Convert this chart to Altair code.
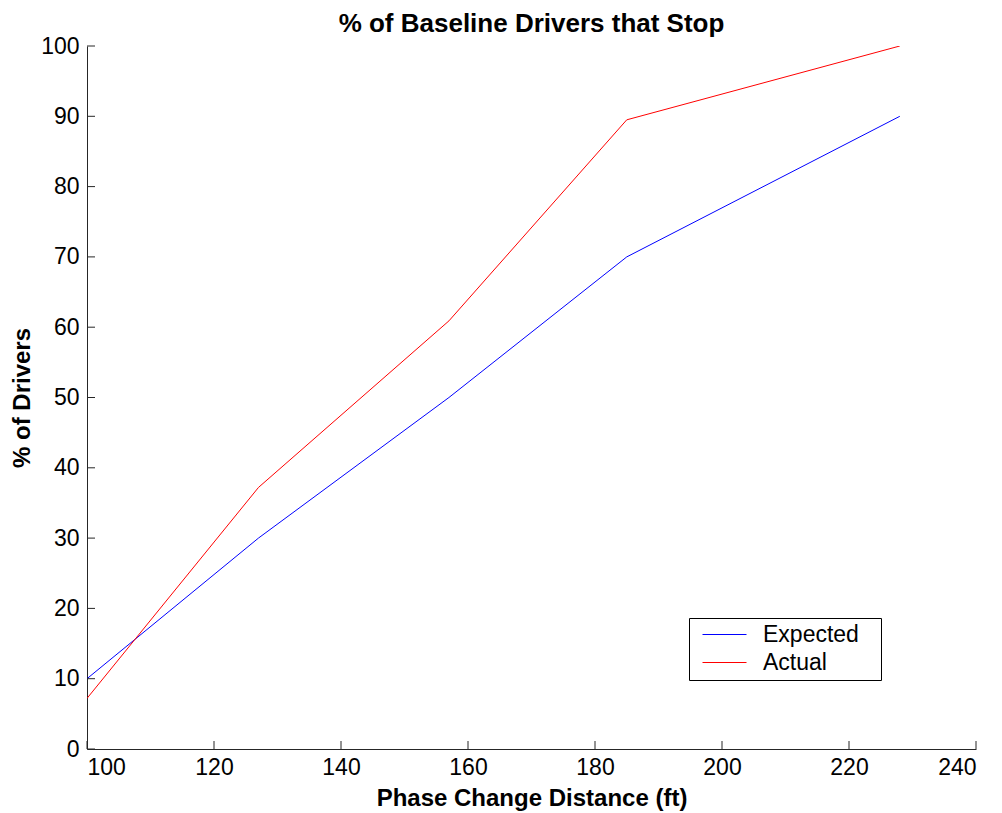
import altair as alt
import pandas as pd

distance = [100, 127, 157, 185, 228]
expected = [10, 30, 50, 70, 90]
actual = [7.2, 37.2, 60.9, 89.5, 100]
series_names = ["Expected", "Actual"]
series_colors = ["#0000ff", "#ff0000"]
x_ticks = [100, 120, 140, 160, 180, 200, 220, 240]
y_ticks = [0, 10, 20, 30, 40, 50, 60, 70, 80, 90, 100]

rows = []
for d, e, a in zip(distance, expected, actual):
    rows.append({"d": d, "v": e, "s": "Expected"})
    rows.append({"d": d, "v": a, "s": "Actual"})
df = pd.DataFrame(rows)

FONT = "Liberation Sans"
W, H = 889, 703

xscale = alt.Scale(domain=[100, 240], nice=False, zero=False)
yscale = alt.Scale(domain=[0, 100], nice=False)

lines = alt.Chart(df).mark_line(strokeWidth=1, clip=True).encode(
    x=alt.X("d:Q", scale=xscale,
            axis=alt.Axis(title="Phase Change Distance (ft)", values=x_ticks, ticks=False,
                          labelPadding=7, titlePadding=7, grid=False)),
    y=alt.Y("v:Q", scale=yscale,
            axis=alt.Axis(title="% of Drivers", values=y_ticks, ticks=False,
                          labelPadding=8, titlePadding=6, grid=False)),
    color=alt.Color("s:N", sort=series_names,
                    scale=alt.Scale(domain=series_names, range=series_colors),
                    legend=alt.Legend(title=None, orient="none", legendX=602, legendY=572,
                                      symbolType="M-2,0H2", symbolSize=484, symbolStrokeWidth=1,
                                      symbolFillColor="transparent",
                                      labelFontSize=23, labelFont=FONT, labelColor="black",
                                      strokeColor="black", padding=5, rowPadding=4,
                                      symbolOffset=19, fillColor="white", labelOffset=27,
                                      labelExpr="datum.label + '\u2800'")),
    order="d:Q",
)

xt = pd.DataFrame({"t": x_ticks})
yt = pd.DataFrame({"t": y_ticks})

xticks = alt.Chart(xt).mark_rule(color="#262626", strokeWidth=1).encode(
    x=alt.X("t:Q", scale=xscale), y=alt.value(H), y2=alt.value(H - 8))
yticks = alt.Chart(yt).mark_rule(color="#262626", strokeWidth=1).encode(
    y=alt.Y("t:Q", scale=yscale), x=alt.value(0), x2=alt.value(8))

chart = alt.layer(lines, xticks, yticks).properties(
    width=W, height=H,
    background="white",
    title=alt.Title("% of Baseline Drivers that Stop", font=FONT, fontSize=26,
                    fontWeight="bold", color="black", offset=-2),
    autosize=alt.AutoSizeParams(type="none"),
    padding={"left": 79, "top": 38, "right": 10, "bottom": 62},
).configure_view(stroke=None).configure_axis(
    labelFont=FONT, labelFontSize=23, labelColor="black",
    titleFont=FONT, titleFontSize=24, titleFontWeight="bold", titleColor="black",
    domainColor="#262626", domainWidth=1,
)

chart.save("out.html", embed_options={"renderer": "svg", "actions": False})
